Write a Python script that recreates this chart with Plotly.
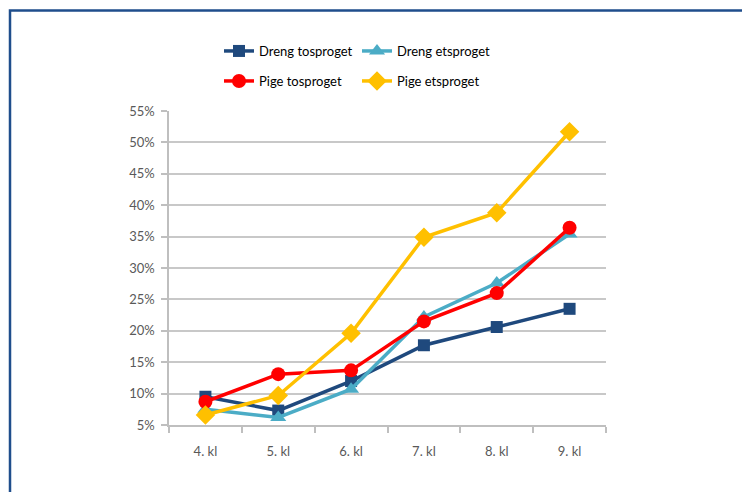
import plotly.graph_objects as go

categories = ["4. kl", "5. kl", "6. kl", "7. kl", "8. kl", "9. kl"]
dreng_tosproget = [9.5, 7.3, 12.0, 17.7, 20.6, 23.5]
dreng_etsproget = [7.5, 6.2, 10.7, 22.2, 27.6, 35.4]
pige_tosproget = [8.7, 13.1, 13.7, 21.5, 26.0, 36.4]
pige_etsproget = [6.6, 9.7, 19.6, 34.9, 38.8, 51.7]
y_ticks = [5, 10, 15, 20, 25, 30, 35, 40, 45, 50, 55]
y_ticklabels = [f"{v}%" for v in y_ticks]

FONT = "Lato, 'Liberation Sans Narrow', sans-serif"

series = [
    ("Dreng tosproget", dreng_tosproget, "#1F497D", "square", 12, "legend"),
    ("Dreng etsproget", dreng_etsproget, "#4BACC6", "triangle-up", 14, "legend"),
    ("Pige tosproget", pige_tosproget, "#FF0000", "circle", 14, "legend2"),
    ("Pige etsproget", pige_etsproget, "#FFC000", "diamond", 15, "legend2"),
]

fig = go.Figure()
for name, vals, color, sym, size, leg in series:
    fig.add_trace(go.Scatter(
        x=categories, y=vals, name=name, mode="lines+markers",
        line=dict(color=color, width=3.5),
        marker=dict(symbol=sym, size=size, color=color),
        legend=leg,
    ))

W, H = 742, 492
L, R, T, B = 169, 136, 111, 67
pw, ph = W - L - R, H - T - B

def px_to_paper_x(px):
    return (px - L) / pw

def px_to_paper_y(py):
    return (H - B - py) / ph

legend_common = dict(
    orientation="h", xanchor="left", yanchor="middle",
    font=dict(family=FONT, size=13, color="#000000"),
    bgcolor="rgba(0,0,0,0)", entrywidth=93, entrywidthmode="pixels",
    itemwidth=30, tracegroupgap=0,
)

fig.update_layout(
    width=W, height=H,
    margin=dict(l=L, r=R, t=T, b=B),
    paper_bgcolor="white", plot_bgcolor="white",
    font=dict(family=FONT, size=13, color="#595959"),
    legend=dict(x=px_to_paper_x(219), y=px_to_paper_y(51), **legend_common),
    legend2=dict(x=px_to_paper_x(219), y=px_to_paper_y(81), **legend_common),
    xaxis=dict(
        type="category", showgrid=False, showline=True, linecolor="#BFBFBF", linewidth=1.5,
        ticks="outside", ticklen=6, tickcolor="#BFBFBF", tickwidth=1.5,
        tickson="boundaries", range=[-0.5, 5.5],
        tickfont=dict(family=FONT, size=13, color="#595959"),
        ticklabelstandoff=14,
    ),
    yaxis=dict(
        range=[5, 55], tickvals=y_ticks, ticktext=y_ticklabels,
        showgrid=True, gridcolor="#C8C8C8", gridwidth=1.5,
        showline=True, linecolor="#BFBFBF", linewidth=1.5,
        ticks="outside", ticklen=6, tickcolor="#BFBFBF", tickwidth=1.5,
        tickfont=dict(family=FONT, size=13, color="#595959"),
        ticklabelstandoff=4,
        zeroline=False,
    ),
    shapes=[dict(
        type="rect", xref="paper", yref="paper",
        x0=px_to_paper_x(10), y0=px_to_paper_y(600),
        x1=px_to_paper_x(900), y1=px_to_paper_y(10.5),
        line=dict(color="#1F4E8C", width=2.5), fillcolor="rgba(0,0,0,0)",
        layer="below",
    )],
)

fig.write_html(
    "out.html",
    config={"displayModeBar": False},
    post_script="document.body.style.margin='0';document.body.style.overflow='hidden';",
)
